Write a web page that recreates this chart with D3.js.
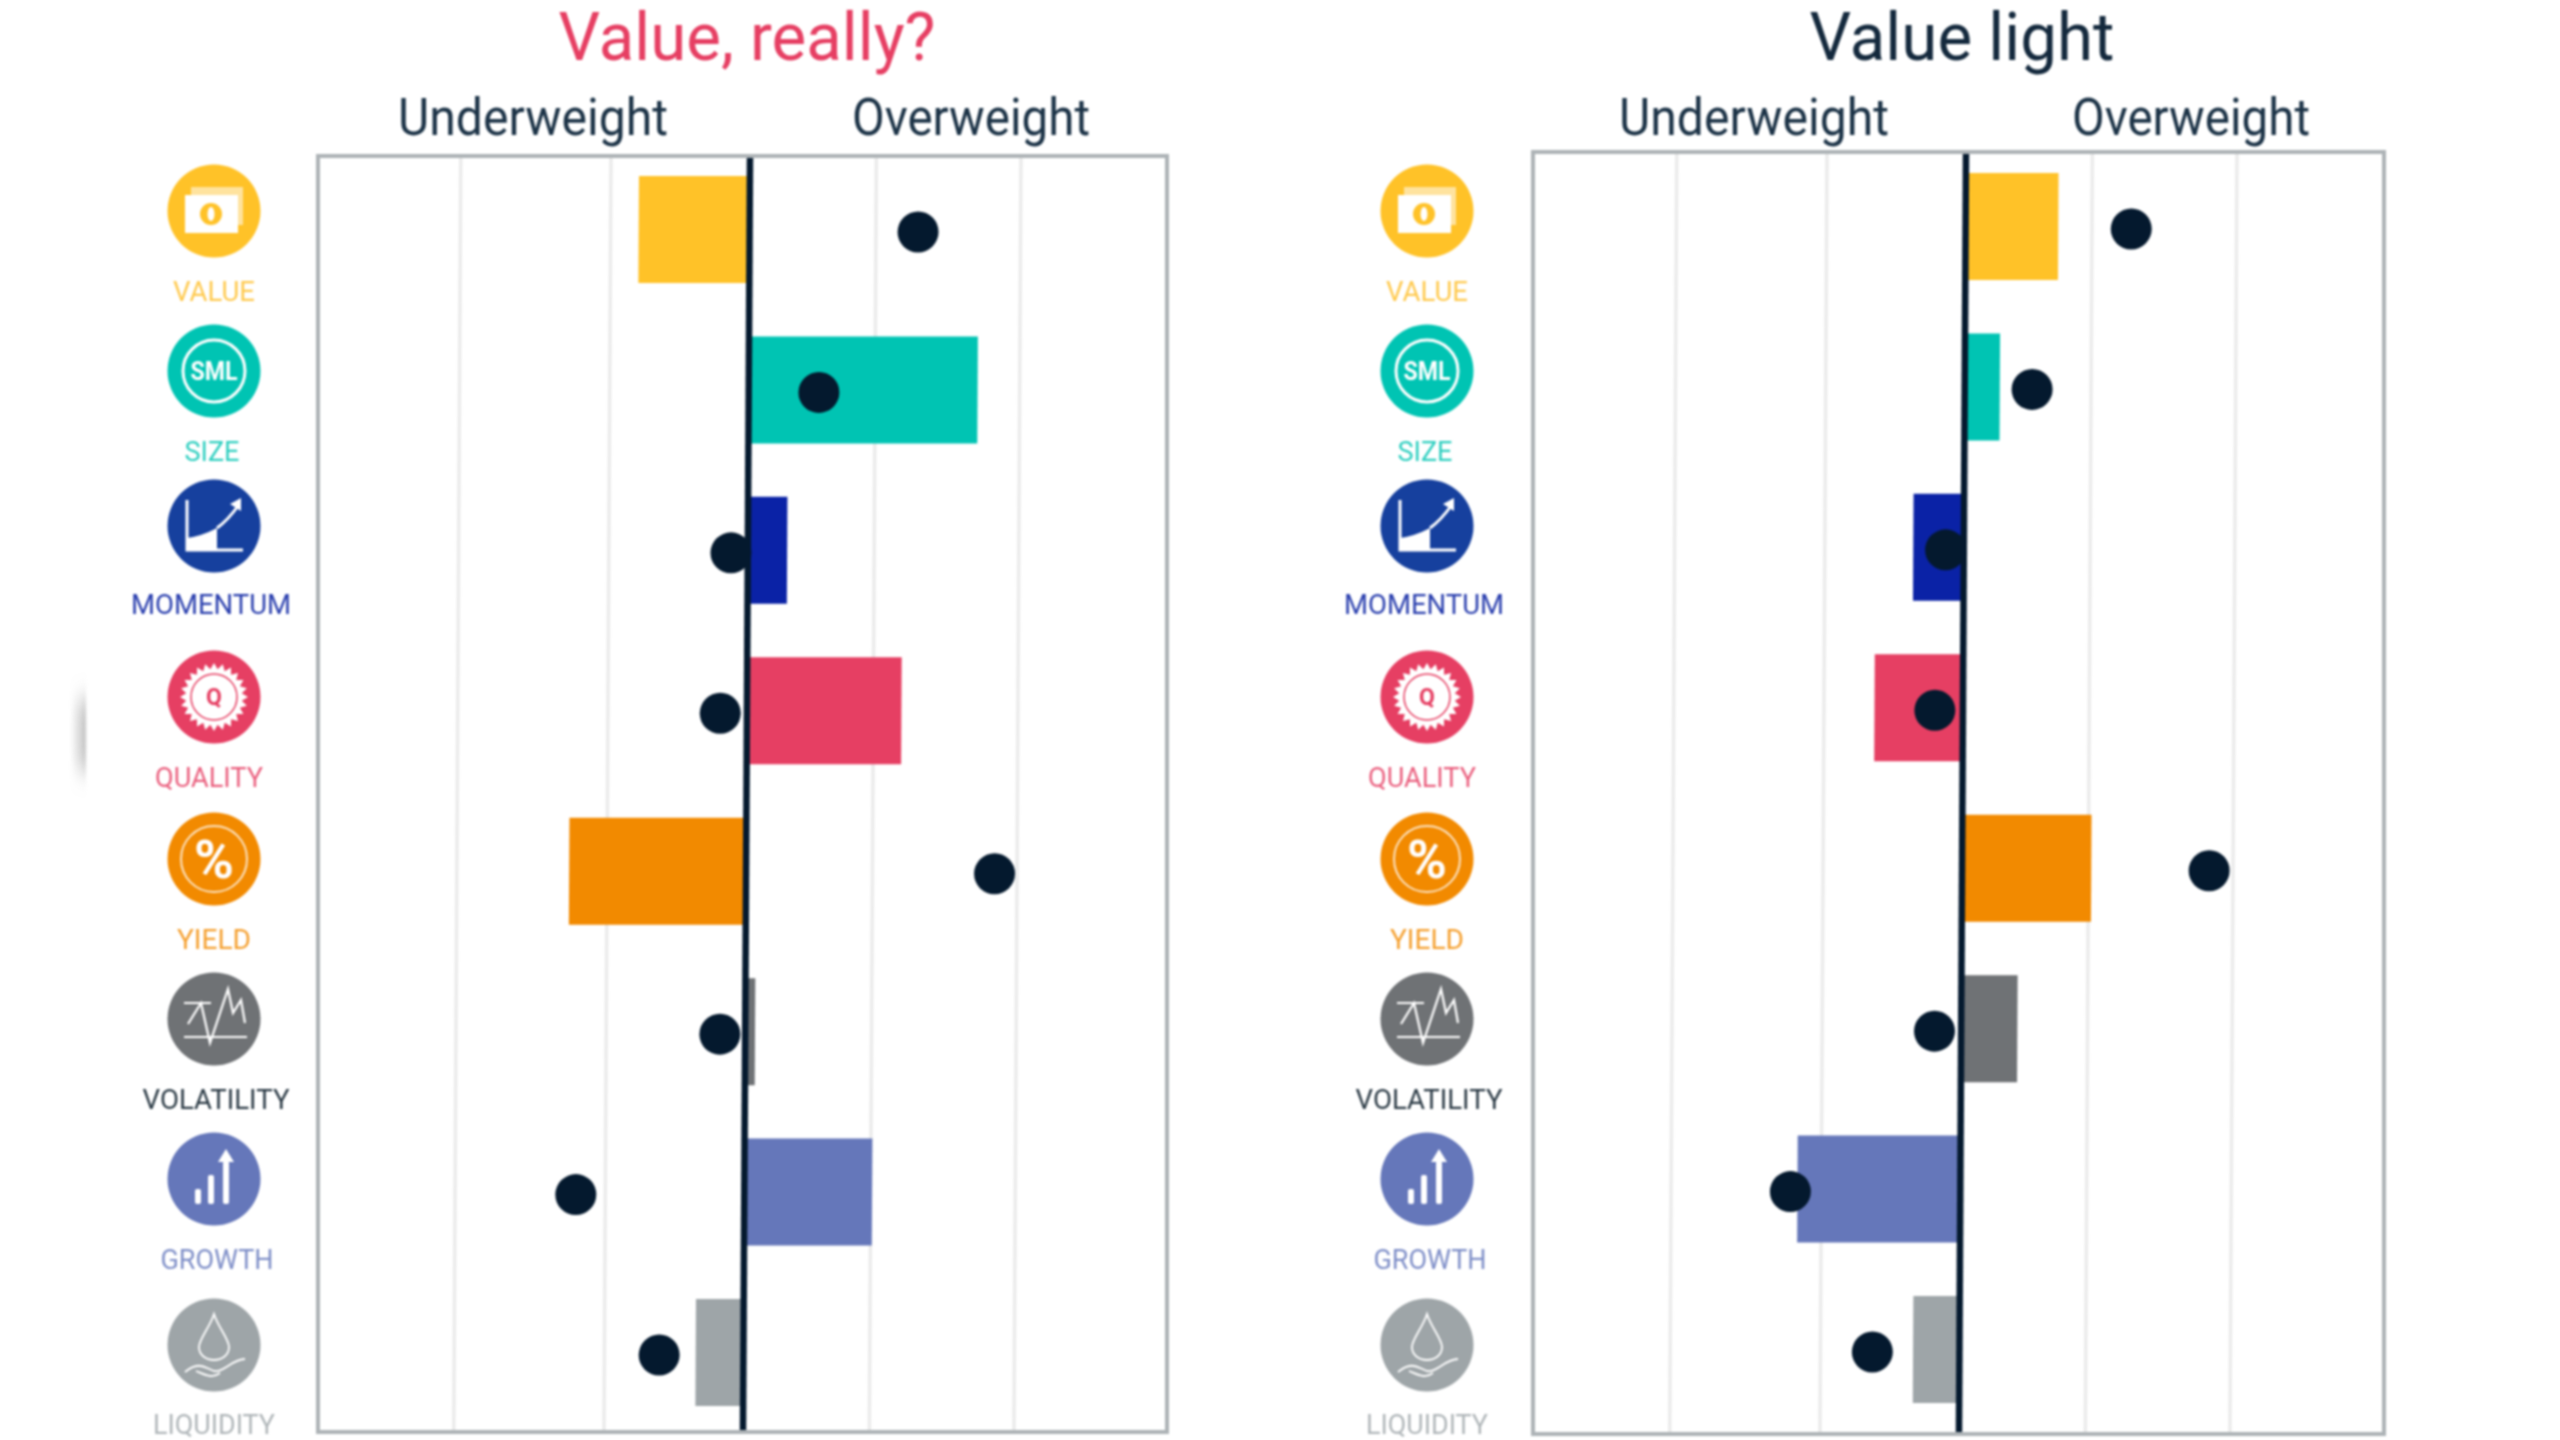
<!DOCTYPE html>
<html><head><meta charset="utf-8">
<script src="https://d3js.org/d3.v7.min.js"></script>
<style>html,body{margin:0;padding:0;background:#fff}svg{display:block;filter:blur(0.9px)}text{font-family:Roboto,sans-serif}</style>
</head><body><svg id="c" width="2560" height="1440"></svg>
<script>
// ---- data (active weight units) ----
const factors = ["VALUE","SIZE","MOMENTUM","QUALITY","YIELD","VOLATILITY","GROWTH","LIQUIDITY"];
const factorColors = ["#ffc228","#00c4b3","#0a22a6","#e63f63","#f28a00","#6f7275","#6577ba","#9ea5a8"];
const iconColors   = ["#ffc228","#00c4b3","#16409e","#e63f63","#f28a00","#6f7275","#6577ba","#9ea5a8"];
const labelColors  = ["#ffc94d","#2fcfc0","#2a3fae","#ea5f7e","#f5a030","#2b3a45","#7f8fc8","#b0b6b9"];
const valueReally  = [-0.79, 1.63, 0.28, 1.10, -1.26, 0.07, 0.91, -0.34];
const valueLight   = [ 0.66, 0.25,-0.36,-0.63,  0.92, 0.40,-1.16, -0.33];
const dotsReally   = [ 1.20, 0.50,-0.12,-0.19,  1.77,-0.18,-1.20, -0.60];
const dotsLight    = [ 1.18, 0.48,-0.13,-0.20,  1.76,-0.19,-1.21, -0.62];
const gridValues   = [-2.06,-0.99,0.90,1.93];
const sideLabels   = ["Underweight","Overweight"];

// ---- layout ----
const unit = 140.4;
const labelWidths = [82,55,160,108,74,147,113,122];
const labelDx = [0,-2,-3,-5,0,2,3,0];
const iconY = [211,371,526,697,859,1019,1179,1345];
const labelY = [291,451,604,777,939,1099,1259,1424];
const panels = [
 {title:"Value, really?",titleColor:"#e63f63",titleX:747,titleW:377,weights:valueReally,dots:dotsReally,
  frame:[318,156,1167,1432],zero:750,bands:[176,1406],iconX:214,sideX:[533,971],sideW:[270,238]},
 {title:"Value light",titleColor:"#14293d",titleX:1962,titleW:305,weights:valueLight,dots:dotsLight,
  frame:[1533,152,2384,1434],zero:1966,bands:[173,1403],iconX:1427,sideX:[1754,2191],sideW:[270,238]}
];
const slant = Math.atan(-4.3/782)*180/Math.PI;
const svg = d3.select("#c");
const defs = svg.append("defs");
const g0 = defs.append("linearGradient").attr("id","edge");
g0.append("stop").attr("offset",0).attr("stop-color","#999").attr("stop-opacity",0);
g0.append("stop").attr("offset",1).attr("stop-color","#999").attr("stop-opacity",.6);
defs.append("filter").attr("id","soft").attr("x","-50%").attr("y","-50%").attr("width","200%").attr("height","200%")
  .append("feGaussianBlur").attr("stdDeviation","0.8 12");
svg.append("rect").attr("x",70).attr("y",700).attr("width",16).attr("height",70).attr("fill","url(#edge)").attr("filter","url(#soft)");

const iconDrawers = {
 VALUE(g,c){
  g.append("rect").attr("x",-23).attr("y",-24).attr("width",52).attr("height",38).attr("fill","#fff").attr("opacity",.55);
  g.append("rect").attr("x",-29).attr("y",-16).attr("width",53).attr("height",38).attr("fill","#fff");
  g.append("circle").attr("cx",-3).attr("cy",3).attr("r",11).attr("fill",c);
  g.append("ellipse").attr("cx",-3).attr("cy",3).attr("rx",3.5).attr("ry",7).attr("fill","#fff");
 },
 SIZE(g,c){
  g.append("circle").attr("r",31).attr("fill","none").attr("stroke","#fff").attr("stroke-width",3);
  g.append("text").attr("text-anchor","middle").attr("y",9).attr("font-size",25).attr("font-weight",700)
   .attr("textLength",47).attr("lengthAdjust","spacingAndGlyphs").attr("fill","#fff").text("SML");
 },
 MOMENTUM(g,c){
  g.append("path").attr("d","M-27,-26V24H29").attr("fill","none").attr("stroke","#fff").attr("stroke-width",3);
  g.append("path").attr("d","M-27,24V12Q-12,10 3,2V24Z").attr("fill","#fff");
  g.append("path").attr("d","M3,2Q14,-6 24,-20").attr("fill","none").attr("stroke","#fff").attr("stroke-width",3);
  g.append("path").attr("d","M27,-28L16,-22L27,-15Z").attr("fill","#fff");
 },
 QUALITY(g,c){
  const pts=d3.range(48).map(i=>{const a=i*Math.PI/24,r=i%2?28:34;return [r*Math.cos(a),r*Math.sin(a)];});
  g.append("polygon").attr("points",pts.join(" ")).attr("fill","#fff");
  g.append("circle").attr("r",23).attr("fill","none").attr("stroke",c).attr("stroke-width",1.5);
  g.append("text").attr("text-anchor","middle").attr("y",8).attr("font-size",23).attr("font-weight",700).attr("fill",c).text("Q");
 },
 YIELD(g,c){
  g.append("circle").attr("r",33).attr("fill","none").attr("stroke","#fff").attr("stroke-width",2).attr("opacity",.75);
  g.append("text").attr("text-anchor","middle").attr("y",19).attr("font-size",54).attr("font-weight",700).attr("fill","#fff").text("%");
 },
 VOLATILITY(g,c){
  g.append("path").attr("d","M-30,18H33M-30,-16H-3M-26,5L-13,-16L-4,24L14,-30L19,-6L27,-19L31,4").attr("fill","none").attr("stroke","#fff").attr("stroke-width",2.2);
 },
 GROWTH(g,c){
  g.append("rect").attr("x",-19).attr("y",10).attr("width",6).attr("height",15).attr("rx",2).attr("fill","#fff");
  g.append("rect").attr("x",-6).attr("y",-4).attr("width",6).attr("height",29).attr("rx",2).attr("fill","#fff");
  g.append("rect").attr("x",9).attr("y",-18).attr("width",6).attr("height",43).attr("rx",2).attr("fill","#fff");
  g.append("path").attr("d","M12,-30L20,-17H4Z").attr("fill","#fff");
 },
 LIQUIDITY(g,c){
  g.append("path").attr("d","M0,-31C4,-18 15,-6 15,2C15,10 8,15 0,15C-8,15 -15,10 -15,2C-15,-6 -4,-18 0,-31Z").attr("fill","none").attr("stroke","#fff").attr("stroke-width",1.8);
  g.append("path").attr("d","M-29,27C-16,16 -10,22 0,26C10,28 18,14 31,14M-18,26C-8,30 -2,34 6,28").attr("fill","none").attr("stroke","#fff").attr("stroke-width",1.8);
 }
};

panels.forEach(p=>{
  const [l,t,r,b]=p.frame;
  const x = d3.scaleLinear().domain([-1,1]).range([p.zero-unit,p.zero+unit]);
  const y = d3.scaleBand().domain(factors).range(p.bands).paddingInner(0.333);
  svg.append("text").attr("x",p.titleX).attr("y",60).attr("text-anchor","middle")
     .attr("font-size",66).attr("fill",p.titleColor)
     .attr("textLength",p.titleW).attr("lengthAdjust","spacingAndGlyphs").text(p.title);
  sideLabels.forEach((s,i)=>svg.append("text").attr("x",p.sideX[i]).attr("y",135).attr("text-anchor","middle")
     .attr("font-size",52).attr("fill","#1c3347")
     .attr("textLength",p.sideW[i]).attr("lengthAdjust","spacingAndGlyphs").text(s));
  const inner = svg.append("g").attr("transform",`translate(${p.zero},${t}) skewX(${slant}) translate(${-p.zero},${-t})`);
  inner.selectAll("line.grid").data(gridValues).join("line").attr("class","grid")
     .attr("x1",d=>x(d)).attr("x2",d=>x(d)).attr("y1",t).attr("y2",b)
     .attr("stroke","#ebebeb").attr("stroke-width",3.5);
  inner.selectAll("rect.bar").data(factors).join("rect").attr("class","bar")
     .attr("x",(d,i)=>Math.min(x(0),x(p.weights[i])))
     .attr("width",(d,i)=>Math.abs(x(p.weights[i])-x(0)))
     .attr("y",d=>y(d)).attr("height",y.bandwidth())
     .attr("fill",(d,i)=>factorColors[i]);
  inner.selectAll("circle.dot").data(factors).join("circle").attr("class","dot")
     .attr("cx",(d,i)=>x(p.dots[i])).attr("cy",d=>y(d)+y.bandwidth()/2+2.5)
     .attr("r",20.5).attr("fill","#04192e");
  inner.append("line").attr("x1",x(0)).attr("x2",x(0)).attr("y1",t).attr("y2",b)
     .attr("stroke","#04192e").attr("stroke-width",6.5);
  svg.append("rect").attr("x",l).attr("y",t).attr("width",r-l).attr("height",b-t)
     .attr("fill","none").attr("stroke","#adb3b6").attr("stroke-width",4);
  factors.forEach((f,i)=>{
    const g=svg.append("g").attr("transform",`translate(${p.iconX},${iconY[i]})`);
    g.append("circle").attr("r",46.5).attr("fill",iconColors[i]);
    iconDrawers[f](g,iconColors[i]);
    svg.append("text").attr("x",p.iconX+labelDx[i]).attr("y",labelY[i]+10).attr("text-anchor","middle")
       .attr("font-size",27).attr("fill",labelColors[i])
       .attr("textLength",labelWidths[i]).attr("lengthAdjust","spacingAndGlyphs").text(f);
  });
});
</script></body></html>
